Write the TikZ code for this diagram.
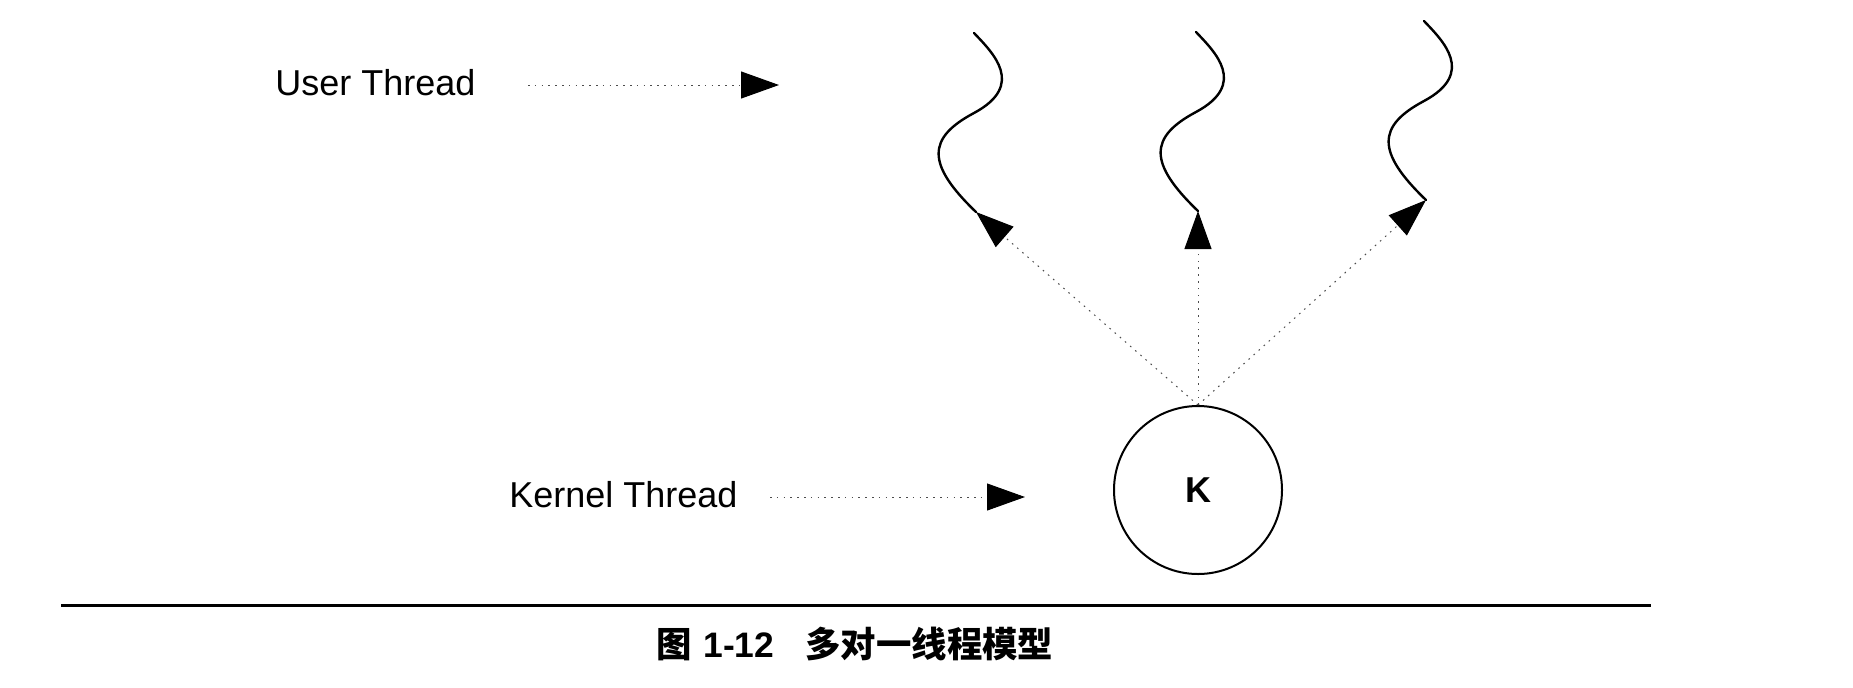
\documentclass[tikz,border=0pt]{standalone}
\usepackage{fontspec}
\setmainfont{Liberation Sans}
\newfontfamily\cjk{Noto Sans CJK SC}
\usetikzlibrary{arrows.meta,calc}
\tikzset{
  lbl/.style={font=\fontsize{18}{20}\selectfont, inner sep=0pt, anchor=west},
  dotline/.style={line width=0.5pt, black!70, dash pattern=on 0.8pt off 2.6pt,
    -{Triangle[length=19pt,width=13.5pt,black]}},
  wave/.style={line width=1.2pt, line cap=round},
  captxt/.style={font=\cjk\bfseries\fontsize{17.7}{20}\selectfont, inner sep=0pt, anchor=base west},
  capnum/.style={font=\bfseries\fontsize{17.7}{20}\selectfont, inner sep=0pt, anchor=base west},
  knode/.style={draw, circle, line width=1pt, minimum size=84pt, inner sep=0pt,
    font=\bfseries\fontsize{18}{20}\selectfont},
}
\newcommand\wavyline[1]{%
  \draw[wave] (#1) .. controls +(-50,-48) and +(-47,25) .. ++(-2,-99)
                   .. controls +(52,-28) and +(19,20) .. ++(0,-80);}
\begin{document}
\begin{tikzpicture}[x=0.5pt,y=-0.5pt]
\path[use as bounding box] (0,0) rectangle (1853,687);
% labels
\node[lbl] (ut) at (275,83) {User Thread};
\coordinate (uta) at (528,85);
\coordinate (utb) at (779,85);
\draw[dotline] (uta) -- (utb);
\node[lbl] (kt) at (509,495) {Kernel Thread};
\coordinate (kta) at (770,497);
\coordinate (ktb) at (1025,497);
\draw[dotline] (kta) -- (ktb);
% kernel thread
\node[knode] (K) at (1198,490) {K};
% user threads
\coordinate (w1) at (976,212);
\coordinate (w2) at (1198,211);
\coordinate (w3) at (1426,200);
\wavyline{w1}
\wavyline{w2}
\wavyline{w3}
\draw[dotline] (K.north) -- (w1);
\draw[dotline] (K.north) -- (w2);
\draw[dotline] (K.north) -- (w3);
% rule and caption
\coordinate (r1) at (61,605);
\coordinate (r2) at (1651,605);
\draw[line width=1.5pt] (r1) -- (r2);
\node[captxt] (c1) at (656,657) {图};
\node[capnum] (c2) at (703,657) {1-12};
\node[captxt] (c3) at (805,657) {多对一线程模型};
\end{tikzpicture}
\end{document}
